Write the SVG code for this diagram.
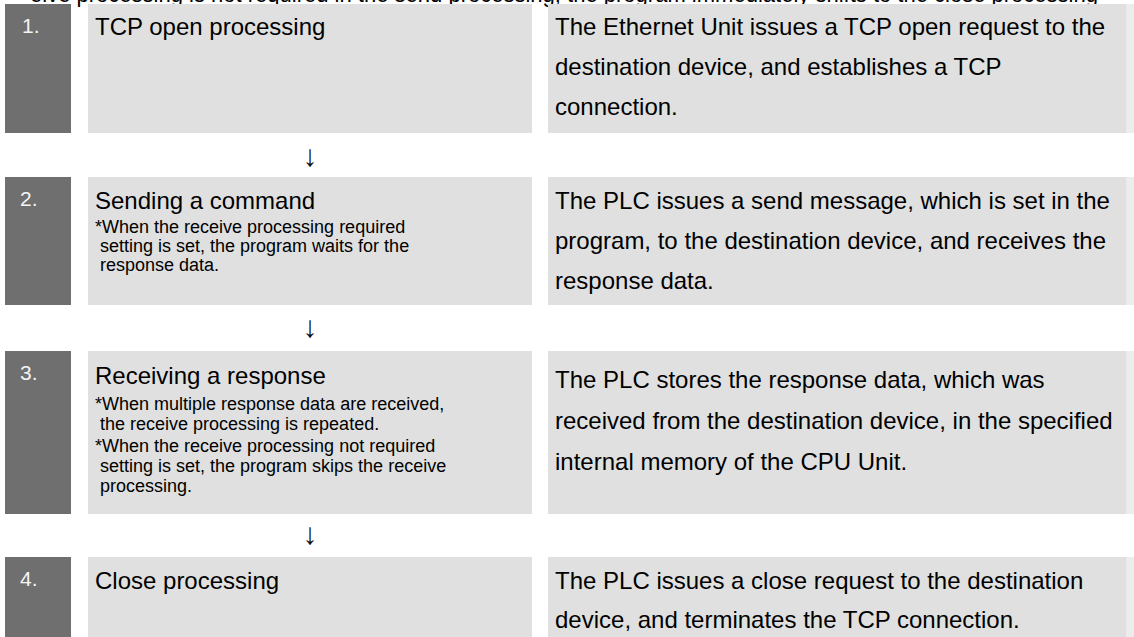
<svg xmlns="http://www.w3.org/2000/svg" width="1134" height="637" viewBox="0 0 1134 637">
<style>
.num{fill:#6f6f6f}
.box{fill:#e0e0e0}
.edge{fill:#ececec}
text{font-family:"Liberation Sans",Arial,sans-serif;fill:#000}
.n{font-size:21px;fill:#f4f4f4}
.t{font-size:24px}
.s{font-size:18px}
.a{font-size:30px;text-anchor:middle;fill:#111}
</style>
<rect width="1134" height="637" fill="#ffffff"/>
<text class="t" x="30" y="2" textLength="1068" lengthAdjust="spacingAndGlyphs">eive processing is not required in the send processing, the program immediately shifts to the close processing</text>
<g id="step1">
<rect class="num" x="5" y="4" width="66" height="129"/>
<text class="n" x="22" y="33">1.</text>
<rect class="box" x="88" y="4" width="444" height="129"/>
<text class="t" x="95" y="35">TCP open processing</text>
<rect class="box" x="548" y="4" width="578" height="129"/>
<rect class="edge" x="1126" y="4" width="8" height="129"/>
<text class="t" x="555" y="35">The Ethernet Unit issues a TCP open request to the</text>
<text class="t" x="555" y="75">destination device, and establishes a TCP</text>
<text class="t" x="555" y="115">connection.</text>
</g>
<g id="step2">
<rect class="num" x="5" y="177" width="66" height="128"/>
<text class="n" x="20" y="206">2.</text>
<rect class="box" x="88" y="177" width="444" height="128"/>
<text class="t" x="95" y="209">Sending a command</text>
<text class="s" x="95" y="233">*When the receive processing required</text>
<text class="s" x="100" y="252">setting is set, the program waits for the</text>
<text class="s" x="100" y="271">response data.</text>
<rect class="box" x="548" y="177" width="578" height="128"/>
<rect class="edge" x="1126" y="177" width="8" height="128"/>
<text class="t" x="555" y="209">The PLC issues a send message, which is set in the</text>
<text class="t" x="555" y="249">program, to the destination device, and receives the</text>
<text class="t" x="555" y="289">response data.</text>
</g>
<g id="step3">
<rect class="num" x="5" y="351" width="66" height="163"/>
<text class="n" x="20" y="380">3.</text>
<rect class="box" x="88" y="351" width="444" height="163"/>
<text class="t" x="95" y="384">Receiving a response</text>
<text class="s" x="95" y="410">*When multiple response data are received,</text>
<text class="s" x="100" y="430">the receive processing is repeated.</text>
<text class="s" x="95" y="452">*When the receive processing not required</text>
<text class="s" x="100" y="472">setting is set, the program skips the receive</text>
<text class="s" x="100" y="492">processing.</text>
<rect class="box" x="548" y="351" width="578" height="163"/>
<rect class="edge" x="1126" y="351" width="8" height="163"/>
<text class="t" x="555" y="388">The PLC stores the response data, which was</text>
<text class="t" x="555" y="429">received from the destination device, in the specified</text>
<text class="t" x="555" y="470">internal memory of the CPU Unit.</text>
</g>
<g id="step4">
<rect class="num" x="5" y="557" width="66" height="80"/>
<text class="n" x="20" y="586">4.</text>
<rect class="box" x="88" y="557" width="444" height="80"/>
<text class="t" x="95" y="589">Close processing</text>
<rect class="box" x="548" y="557" width="578" height="80"/>
<rect class="edge" x="1126" y="557" width="8" height="80"/>
<text class="t" x="555" y="589">The PLC issues a close request to the destination</text>
<text class="t" x="555" y="628">device, and terminates the TCP connection.</text>
</g>
<g id="connectors">
<text class="a" x="310" y="166">↓</text>
<text class="a" x="310" y="337">↓</text>
<text class="a" x="310" y="544">↓</text>
</g>
</svg>
